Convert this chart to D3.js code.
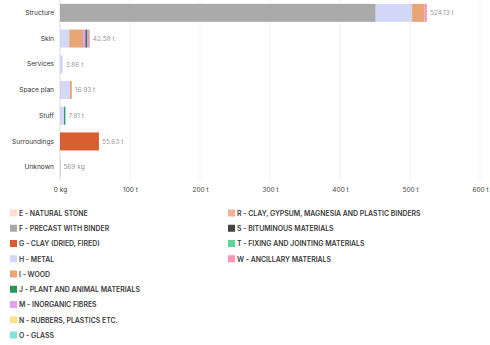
<!DOCTYPE html>
<html>
<head>
<meta charset="utf-8">
<script src="https://cdn.jsdelivr.net/npm/d3@7"></script>
<style>
  html, body { margin: 0; padding: 0; background: #fff; }
  svg { display: block; font-family: Inter, "Noto Sans", sans-serif; }
  .value-label { fill: #9a9a9a; }
</style>
</head>
<body>
<svg id="chart" width="490" height="345"></svg>
<script>
// Building layers (rows)
const categories = ["Structure", "Skin", "Services", "Space plan", "Stuff", "Surroundings", "Unknown"];

// Material groups (stack keys), in stacking order
const materialKeys = ["E", "F", "G", "H", "I", "J", "M", "N", "O", "R", "S", "T", "W"];
const materialNames = [
  "E - NATURAL STONE", "F - PRECAST WITH BINDER", "G - CLAY (DRIED, FIRED)", "H - METAL",
  "I - WOOD", "J - PLANT AND ANIMAL MATERIALS", "M - INORGANIC FIBRES", "N - RUBBERS, PLASTICS ETC.",
  "O - GLASS", "R - CLAY, GYPSUM, MAGNESIA AND PLASTIC BINDERS", "S - BITUMINOUS MATERIALS",
  "T - FIXING AND JOINTING MATERIALS", "W - ANCILLARY MATERIALS"
];
const materialColors = [
  "#fde0cf", "#aaaaaa", "#d75f32", "#d3d8f8", "#e8a676", "#23985a", "#e3a0f0",
  "#fbe38e", "#80e2e0", "#f7b094", "#454545", "#5ed497", "#f597bb"
];

// Mass per layer and material, tonnes
const E = [0, 0, 0, 0, 0, 0, 0];
const F = [451.0, 0, 0.5, 0, 0.5, 0, 0.569];
const G = [0, 0, 0, 0.5, 0, 55.63, 0];
const H = [52.0, 13.2, 3.36, 13.8, 5.3, 0, 0];
const I = [17.5, 19.6, 0, 2.63, 0, 0, 0];
const J = [0, 0, 0, 0, 1.7, 0, 0];
const M = [0, 3.6, 0, 0, 0, 0, 0];
const N = [0, 0, 0, 0, 0, 0, 0];
const O = [0, 0, 0, 0, 0, 0, 0];
const R = [0, 0, 0, 0, 0, 0, 0];
const S = [0, 2.0, 0, 0, 0, 0, 0];
const T = [0, 1.4, 0, 0, 0.41, 0, 0];
const W = [3.63, 2.78, 0, 0, 0, 0, 0];

const xTicks = [0, 100, 200, 300, 400, 500, 600];

const series = { E, F, G, H, I, J, M, N, O, R, S, T, W };
const rows = categories.map((c, i) => {
  const r = { category: c };
  materialKeys.forEach(k => { r[k] = series[k][i]; });
  return r;
});
const totals = rows.map(r => d3.sum(materialKeys, k => r[k]));

const fmtMass = t => t === 0 ? "0 kg" : (t < 1 ? d3.format(".0f")(t * 1000) + " kg" : d3.format(".2f")(t) + " t");
const fmtTick = t => t === 0 ? "0 kg" : t + " t";

const svg = d3.select("#chart");
const x = d3.scaleLinear().domain([0, 600]).range([60, 480]);
const y = d3.scaleBand().domain(categories).range([0, 180]).paddingInner(0.3).paddingOuter(0.15);
const color = d3.scaleOrdinal().domain(materialKeys).range(materialColors);

// Vertical gridlines
svg.append("g").selectAll("line").data(xTicks).join("line")
  .attr("x1", d => x(d)).attr("x2", d => x(d))
  .attr("y1", 0).attr("y2", 180)
  .attr("stroke", d => d === 0 ? "#dcdcdc" : "#efefef").attr("stroke-width", 1);

// X axis tick labels
const xAxis = svg.append("g").attr("transform", "translate(0,180)")
  .call(d3.axisBottom(x).tickValues(xTicks).tickFormat(fmtTick).tickSize(0).tickPadding(7));
xAxis.select(".domain").remove();
xAxis.selectAll("text").attr("font-size", 6.5).attr("fill", "#444").attr("font-family", "Inter, sans-serif");

// Category labels
const yAxis = svg.append("g").attr("transform", "translate(54,0)")
  .call(d3.axisLeft(y).tickSize(0).tickPadding(0));
yAxis.select(".domain").remove();
yAxis.selectAll("text").attr("font-size", 6.6).attr("fill", "#333").attr("font-family", "Inter, sans-serif");

// Stacked bars
const stacked = d3.stack().keys(materialKeys)(rows);
svg.append("g").selectAll("g").data(stacked).join("g")
  .attr("fill", d => color(d.key))
  .selectAll("rect").data(d => d).join("rect")
  .attr("x", d => x(d[0]))
  .attr("y", d => y(d.data.category))
  .attr("width", d => Math.max(0, x(d[1]) - x(d[0])))
  .attr("height", y.bandwidth());

// Totals next to each bar
svg.append("g").selectAll("text").data(rows).join("text")
  .attr("class", "value-label")
  .attr("x", (d, i) => x(totals[i]) + 3)
  .attr("y", d => y(d.category) + y.bandwidth() / 2)
  .attr("dy", "0.35em")
  .attr("font-size", 6.5)
  .text((d, i) => fmtMass(totals[i]));

// Legend in two columns
const leftCount = 9;
const legend = svg.append("g").selectAll("g").data(materialKeys).join("g")
  .attr("transform", (d, i) => {
    const col = i < leftCount ? 0 : 1;
    const row = col === 0 ? i : i - leftCount;
    return `translate(${col === 0 ? 10 : 228},${213.5 + row * 15.25})`;
  });
legend.append("rect").attr("x", 0).attr("y", -4).attr("width", 7).attr("height", 7)
  .attr("fill", d => color(d));
legend.append("text").attr("x", 9).attr("y", 0).attr("dy", "0.35em")
  .attr("font-size", 6.9).attr("font-weight", 600).attr("fill", "#3a3a3a")
  .text((d, i) => materialNames[i]);
</script>
</body>
</html>
